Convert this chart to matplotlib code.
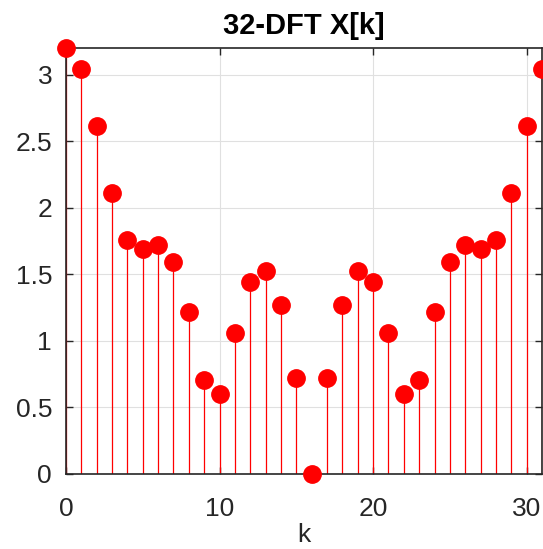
import numpy as np
import matplotlib.pyplot as plt

# |X[k]| of the 32-point DFT, k = 0..31
k = np.arange(32)
half = [3.20, 3.04, 2.61, 2.11, 1.755, 1.69, 1.715, 1.59, 1.215, 0.705, 0.595,
        1.055, 1.44, 1.525, 1.27, 0.715]
Xk = np.array(half + [0.0] + half[:0:-1])

xticks = [0, 10, 20, 30]
yticks = [0, 0.5, 1, 1.5, 2, 2.5, 3]

plt.rcParams['font.family'] = ['Liberation Sans', 'DejaVu Sans']
dark = '#262626'

fig = plt.figure(figsize=(5.43, 5.49), dpi=100)
ax = fig.add_axes([66 / 543, 1 - 473.5 / 549, 476 / 543, 425.5 / 549])

ax.vlines(k, 0, Xk, color='red', linewidth=0.9, zorder=2)
ax.plot(k, Xk, 'o', color='red', markersize=12.5, clip_on=False, zorder=3)

ax.set_xlim(0, 31)
ax.set_ylim(0, 3.2)
ax.set_xticks(xticks)
ax.set_yticks(yticks)
ax.set_yticklabels(['0', '0.5', '1', '1.5', '2', '2.5', '3'])
ax.grid(True, color='#e0e0e0', linewidth=0.8)
ax.set_axisbelow(True)

ax.tick_params(direction='in', length=5, width=1, colors=dark, labelsize=19,
               top=True, right=True)
ax.tick_params(axis='x', pad=17)
ax.tick_params(axis='y', pad=10)
for s in ax.spines.values():
    s.set_color(dark)
    s.set_linewidth(1.2)

ax.set_title('32-DFT X[k]', fontsize=21, fontweight='bold', pad=10)
ax.set_xlabel('k', fontsize=19, color=dark, labelpad=1)

fig.savefig('out.png', dpi=100)
